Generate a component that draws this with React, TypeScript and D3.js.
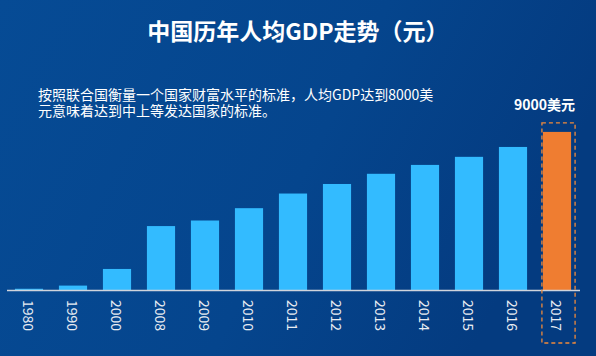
import React from "react";
import * as d3 from "d3";

const years = ["1980", "1990", "2000", "2008", "2009", "2010", "2011", "2012", "2013", "2014", "2015", "2016", "2017"];
const gdp = [468, 1663, 7942, 24121, 26222, 30876, 36403, 40007, 43852, 47203, 50251, 53980, 59660];
const highlightYear = "2017";
const highlightLabel = "9000美元";
const title = "中国历年人均GDP走势（元）";
const noteLines = ["按照联合国衡量一个国家财富水平的标准，人均GDP达到8000美", "元意味着达到中上等发达国家的标准。"];

const W = 596;
const H = 356;
const FONT = "'Noto Sans CJK SC', 'Microsoft YaHei', sans-serif";

export default function App() {
  const x = d3.scaleBand<string>().domain(years).range([7, 579]).paddingInner(0.36).paddingOuter(0.18);
  const y = d3.scaleLinear().domain([0, 60000]).range([290, 131]);
  const bw = x.bandwidth();
  const hx = x(highlightYear)!;
  const hv = gdp[years.indexOf(highlightYear)];
  const boxTop = y(hv) - 9;
  const boxLeft = hx - 1;
  const boxW = bw + 5;

  return (
    <svg width={W} height={H} style={{ position: "absolute", left: 0, top: 0, display: "block" }} fontFamily={FONT}>
      <defs>
        <linearGradient id="bg" x1="0" y1="0" x2="1" y2="0.3">
          <stop offset="0" stopColor="#064B95" />
          <stop offset="0.6" stopColor="#05458D" />
          <stop offset="1" stopColor="#043B80" />
        </linearGradient>
      </defs>
      <rect x={0} y={0} width={W} height={H} fill="url(#bg)" />
      <text x={W / 2} y={40} textAnchor="middle" fill="#fff" fontSize={23} fontWeight="bold">
        {title}
      </text>
      <text x={38} y={100} fill="#fff" fontSize={14}>
        {noteLines.map((t, i) => (
          <tspan key={i} x={38} dy={i === 0 ? 0 : 16}>
            {t}
          </tspan>
        ))}
      </text>
      {years.map((yr, i) => (
        <rect
          key={yr}
          x={x(yr)!}
          y={y(gdp[i])}
          width={bw}
          height={y(0) - y(gdp[i])}
          fill={yr === highlightYear ? "#EF7D31" : "#33BBFF"}
        />
      ))}
      <line x1={7} x2={580} y1={y(0) + 0.5} y2={y(0) + 0.5} stroke="#D0D4DC" strokeWidth={1.5} />
      {years.map((yr) => (
        <text
          key={yr}
          transform={`translate(${x(yr)! + bw / 2},${y(0) + 10}) rotate(90)`}
          fill="#E8ECF2"
          fontSize={14}
          dominantBaseline="central"
          textAnchor="start"
        >
          {yr}
        </text>
      ))}
      <rect
        x={boxLeft}
        y={boxTop}
        width={boxW}
        height={343 - boxTop}
        fill="none"
        stroke="#F08A3A"
        strokeWidth={1.3}
        strokeDasharray="4,3"
      />
      <text x={boxLeft + boxW} y={110} textAnchor="end" fill="#fff" fontSize={14} fontWeight="bold">
        {highlightLabel}
      </text>
    </svg>
  );
}
